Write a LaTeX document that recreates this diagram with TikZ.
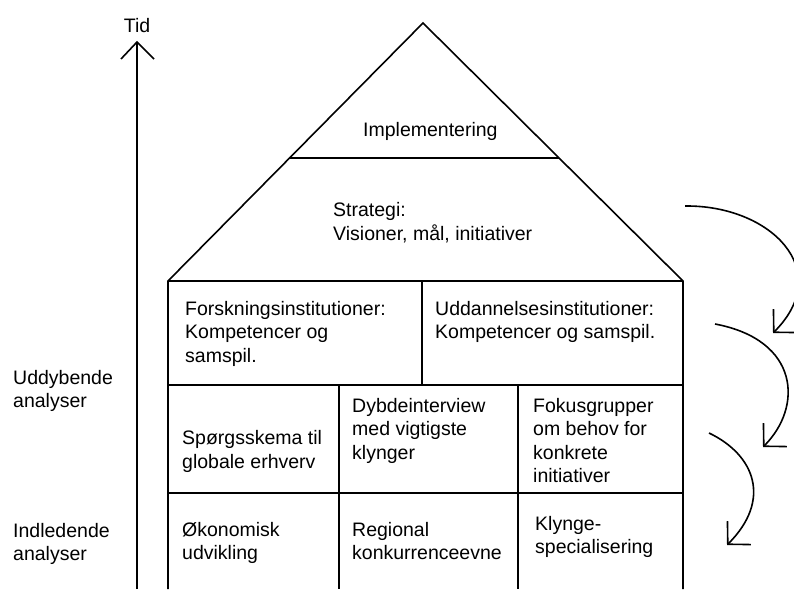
\documentclass[tikz,border=0pt]{standalone}
\usepackage{fontspec}
\setmainfont{Liberation Sans}
\usetikzlibrary{arrows.meta,calc}
\begin{document}
\begin{tikzpicture}[x=1pt,y=-1pt,
  lbl/.style={anchor=base west, inner sep=0pt, align=left,
              font=\fontsize{19.5}{23.5}\selectfont},
  ln/.style={line width=1.6pt, line join=miter},
  curv/.style={line width=1.6pt, -{Straight Barb[length=16pt,width=33pt,line width=1.6pt]}}]
\useasboundingbox (0,0) rectangle (794,589);
\clip (0,0) rectangle (794,589);
% house
\coordinate (apex) at (423,23);
\coordinate (roofL) at (168,281);
\coordinate (roofR) at (683,281);
\coordinate (impL) at ($(apex)!{135/258}!(roofL)$);
\coordinate (impR) at ($(apex)!{135/258}!(roofR)$);
\coordinate (botL) at (168,589);
\coordinate (botR) at (683,589);
\draw[ln] (botL) -- (roofL) -- (apex) -- (roofR) -- (botR);
\draw[ln] (roofL) -- (roofR);
\draw[ln] (impL) -- (impR);
\draw[ln] (168,385) -- (683,385);
\draw[ln] (168,493) -- (683,493);
\draw[ln] (422,281) -- (422,385);
\draw[ln] (339,385) -- (339,589);
\draw[ln] (518,385) -- (518,589);
% time axis
\coordinate (tbot) at (137,589);
\coordinate (ttop) at (137,42);
\draw[ln] (tbot) -- (ttop);
\draw[ln] (121,59) -- (ttop) -- (154,59);
\node[lbl, anchor=base] (tid) at (137,32) {Tid};
% texts (anchor = baseline of the last line)
\node[lbl] (imp) at (363,136) {Implementering};
\node[lbl] (strat) at (333,240) {Strategi:\\Visioner, mål, initiativer};
\node[lbl] (forsk) at (185,362) {Forskningsinstitutioner:\\Kompetencer og\\samspil.};
\node[lbl] (udd) at (435,338.5) {Uddannelsesinstitutioner:\\Kompetencer og samspil.};
\node[lbl] (sporg) at (182,468) {Spørgsskema til\\globale erhverv};
\node[lbl] (dybde) at (352,459) {Dybdeinterview\\med vigtigste\\klynger};
\node[lbl] (fokus) at (533,482.5) {Fokusgrupper\\om behov for\\konkrete\\initiativer};
\node[lbl] (okon) at (182,559.5) {Økonomisk\\udvikling};
\node[lbl] (regi) at (352,559.5) {Regional\\konkurrenceevne};
\node[lbl] (klyn) at (535,553.5) {Klynge-\\specialisering};
\node[lbl] (uddyb) at (13,407.5) {Uddybende\\analyser};
\node[lbl] (indl) at (13,560.5) {Indledende\\analyser};
% curved arrows
\coordinate (a1s) at (685,206);
\coordinate (a1e) at (773,333);
\coordinate (a2s) at (715,324);
\coordinate (a2e) at (763,447);
\coordinate (a3s) at (709,433);
\coordinate (a3e) at (727,545);
\draw[curv] (a1s) .. controls (770,205) and (836,270) .. (a1e);
\draw[curv] (a2s) .. controls (800,340) and (803,407) .. (a2e);
\draw[curv] (a3s) .. controls (755,455) and (772,500) .. (a3e);
\end{tikzpicture}
\end{document}
